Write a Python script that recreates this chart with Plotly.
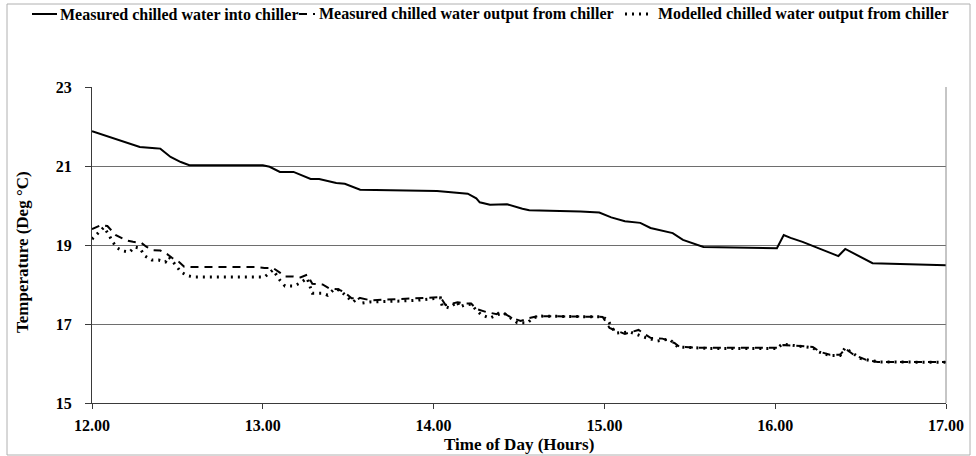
import plotly.graph_objects as go

# Measured chilled water temperature entering the chiller (deg C) vs time of day (h)
inlet_time = [12.00, 12.22, 12.28, 12.37, 12.40, 12.46, 12.52, 12.57, 13.00, 13.04,
              13.10, 13.18, 13.28, 13.33, 13.43, 13.48, 13.57, 14.02, 14.15, 14.20,
              14.25, 14.27, 14.33, 14.43, 14.52, 14.56, 14.86, 14.97, 15.04, 15.12,
              15.21, 15.27, 15.40, 15.46, 15.58, 16.01, 16.05, 16.09, 16.16, 16.28,
              16.37, 16.41, 16.48, 16.57, 17.00]
inlet_temp = [21.88, 21.56, 21.48, 21.45, 21.44, 21.23, 21.10, 21.02, 21.02, 20.98,
              20.85, 20.85, 20.67, 20.67, 20.57, 20.55, 20.40, 20.37, 20.32, 20.30,
              20.18, 20.08, 20.02, 20.03, 19.92, 19.88, 19.85, 19.82, 19.70, 19.60,
              19.56, 19.43, 19.30, 19.13, 18.95, 18.92, 19.25, 19.18, 19.08, 18.87,
              18.72, 18.90, 18.75, 18.54, 18.49]

# Measured chilled water temperature leaving the chiller
outlet_time = [12.00, 12.05, 12.09, 12.14, 12.20, 12.24, 12.29, 12.32, 12.36, 12.40,
               12.44, 12.47, 12.51, 12.54, 12.59, 12.97, 13.01, 13.06, 13.10, 13.13,
               13.18, 13.22, 13.26, 13.29, 13.35, 13.39, 13.44, 13.48, 13.52, 13.57,
               13.63, 13.72, 13.80, 13.92, 14.04, 14.07, 14.14, 14.18, 14.22, 14.25,
               14.31, 14.37, 14.39, 14.46, 14.51, 14.56, 14.61, 14.99, 15.03, 15.12,
               15.20, 15.27, 15.34, 15.41, 15.44, 15.56, 16.01, 16.05, 16.15, 16.22,
               16.26, 16.32, 16.38, 16.41, 16.46, 16.54, 16.60, 17.00]
outlet_temp = [19.40, 19.50, 19.48, 19.25, 19.12, 19.08, 19.05, 18.95, 18.87, 18.86,
               18.77, 18.67, 18.57, 18.45, 18.44, 18.44, 18.42, 18.42, 18.30, 18.20,
               18.20, 18.18, 18.25, 18.02, 18.00, 17.90, 17.88, 17.80, 17.65, 17.66,
               17.60, 17.62, 17.64, 17.66, 17.68, 17.48, 17.55, 17.52, 17.52, 17.38,
               17.30, 17.25, 17.33, 17.15, 17.08, 17.15, 17.20, 17.18, 16.90, 16.75,
               16.85, 16.65, 16.63, 16.52, 16.42, 16.40, 16.40, 16.47, 16.44, 16.42,
               16.30, 16.22, 16.22, 16.38, 16.22, 16.08, 16.04, 16.04]

# Modelled chilled water temperature leaving the chiller
model_time = [12.00, 12.04, 12.07, 12.10, 12.12, 12.15, 12.18, 12.22, 12.25, 12.28,
              12.31, 12.35, 12.39, 12.43, 12.45, 12.49, 12.52, 12.56, 12.60, 13.01,
              13.06, 13.10, 13.13, 13.18, 13.22, 13.26, 13.29, 13.35, 13.38, 13.42,
              13.45, 13.50, 13.53, 13.56, 13.58, 13.63, 13.72, 13.80, 13.90, 14.00,
              14.04, 14.05, 14.09, 14.14, 14.15, 14.18, 14.22, 14.25, 14.28, 14.33,
              14.37, 14.41, 14.46, 14.49, 14.55, 14.58, 14.62, 14.99, 15.02, 15.05,
              15.07, 15.15, 15.23, 15.31, 15.38, 15.43, 15.62, 16.01, 16.04, 16.12,
              16.22, 16.25, 16.32, 16.38, 16.41, 16.44, 16.50, 16.55, 16.61, 17.00]
model_temp = [19.15, 19.33, 19.45, 19.25, 19.08, 18.92, 18.85, 18.82, 18.95, 18.92,
              18.72, 18.62, 18.62, 18.57, 18.70, 18.49, 18.32, 18.22, 18.19, 18.19,
              18.37, 18.11, 17.96, 17.96, 18.04, 18.16, 17.78, 17.78, 17.73, 17.89,
              17.86, 17.66, 17.56, 17.68, 17.53, 17.56, 17.58, 17.58, 17.60, 17.64,
              17.66, 17.46, 17.41, 17.56, 17.43, 17.48, 17.50, 17.35, 17.23, 17.15,
              17.23, 17.28, 17.13, 17.03, 17.03, 17.15, 17.20, 17.18, 17.10, 16.87,
              16.77, 16.80, 16.67, 16.57, 16.62, 16.42, 16.38, 16.38, 16.49, 16.45,
              16.40, 16.30, 16.20, 16.20, 16.40, 16.30, 16.13, 16.08, 16.04, 16.03]

series_names = ["Measured chilled water into chiller",
                "Measured chilled water output from chiller",
                "Modelled chilled water output from chiller"]

x_ticks = [12, 13, 14, 15, 16, 17]
y_ticks = [15, 17, 19, 21, 23]

FONT = "Liberation Serif"
W, H = 976, 456
L, R, T, B = 92, 30, 87, 53
PW, PH = W - L - R, H - T - B


def px(xp):
    return (xp - L) / PW


def py(yp):
    return (H - B - yp) / PH


def bold(size):
    return dict(family=FONT, size=size, color="black", weight="bold")


styles = [dict(color="black", width=2),
          dict(color="black", width=2, dash="8px,6px"),
          dict(color="black", width=3, dash="2px,5px")]

fig = go.Figure()
for t, v, name, st in zip([inlet_time, outlet_time, model_time],
                          [inlet_temp, outlet_temp, model_temp],
                          series_names, styles):
    fig.add_trace(go.Scatter(x=t, y=v, mode="lines", name=name, line=st,
                             showlegend=False))

shapes = []
annotations = []

# figure frame
shapes.append(dict(type="rect", xref="paper", yref="paper",
                   x0=px(7), x1=px(970), y0=py(455), y1=py(4),
                   line=dict(color="#b0b0b0", width=1), layer="below"))
# right border of plotting area
shapes.append(dict(type="line", xref="paper", yref="paper",
                   x0=1, x1=1, y0=0, y1=1, line=dict(color="#8c8c8c", width=1)))

# legend row: (line start, line end, text start) in pixels
legend_items = [(32, 57, 58), (299, 315, 317), (625, 653, 656)]
leg_y = py(14)
for (s0, s1, tx), name, st in zip(legend_items, series_names, styles):
    shapes.append(dict(type="line", xref="paper", yref="paper",
                       x0=px(s0), x1=px(s1), y0=leg_y, y1=leg_y,
                       line=st))
    annotations.append(dict(text=name, xref="paper", yref="paper",
                            x=px(tx), y=leg_y, xanchor="left", yanchor="middle",
                            showarrow=False, font=bold(16)))

# axis titles
annotations.append(dict(text="Time of Day (Hours)", xref="paper", yref="paper",
                        x=0.5, y=py(444), xanchor="center", yanchor="middle",
                        showarrow=False, font=bold(17)))
annotations.append(dict(text="Temperature (Deg °C)", xref="paper", yref="paper",
                        x=px(22), y=py(252), xanchor="center", yanchor="middle",
                        textangle=-90, showarrow=False, font=bold(17)))

fig.update_layout(
    width=W, height=H,
    margin=dict(l=L, r=R, t=T, b=B, pad=0),
    paper_bgcolor="white", plot_bgcolor="white",
    shapes=shapes, annotations=annotations,
    font=dict(family=FONT, color="black"),
)

fig.update_xaxes(
    range=[12, 17], tickvals=x_ticks, tickformat=".2f",
    showgrid=False, zeroline=False,
    showline=True, linecolor="#3a3a3a", linewidth=1,
    ticks="outside", ticklen=5, tickcolor="#3a3a3a",
    tickfont=bold(16), ticklabelstandoff=3,
)
fig.update_yaxes(
    range=[15, 23], tickvals=y_ticks,
    showgrid=True, gridcolor="#6e6e6e", gridwidth=1, zeroline=False,
    showline=True, linecolor="#3a3a3a", linewidth=1,
    ticks="outside", ticklen=6, tickcolor="#3a3a3a",
    tickfont=bold(16), ticklabelstandoff=10,
)

fig.write_html("out.html")
